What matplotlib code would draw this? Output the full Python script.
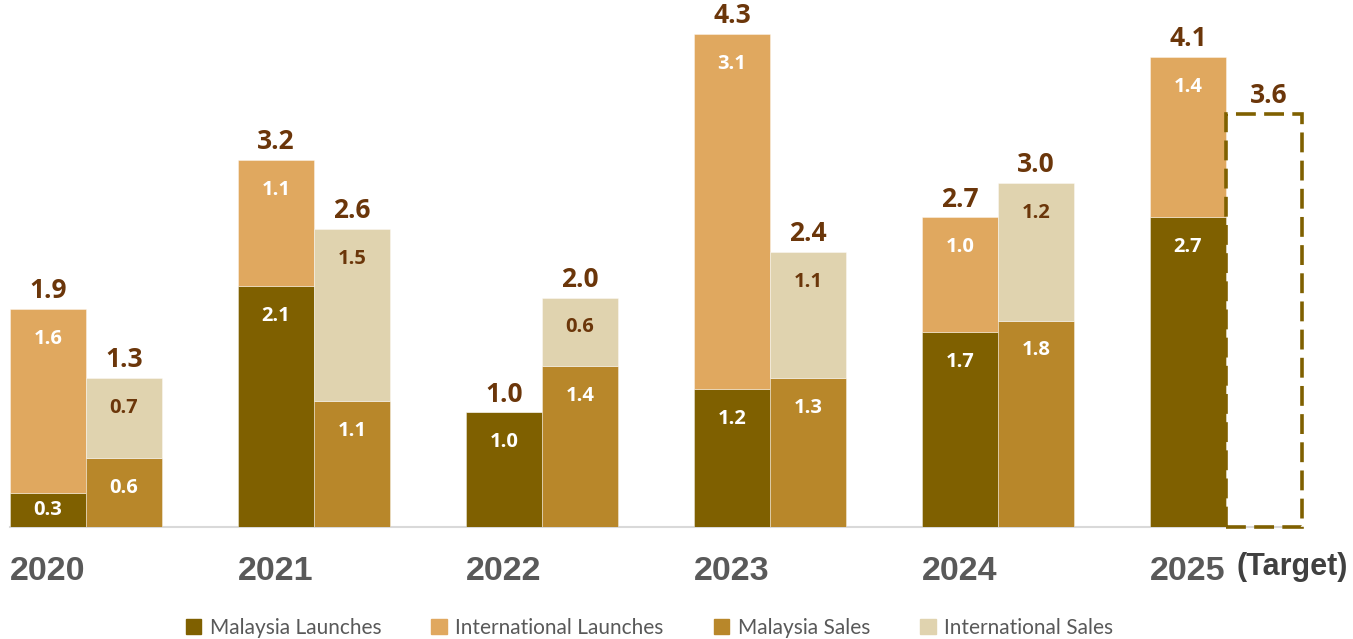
import matplotlib
matplotlib.use("Agg")
import matplotlib.pyplot as plt
from matplotlib.patches import Patch, Rectangle
import matplotlib.transforms as mtransforms

years = ["2020", "2021", "2022", "2023", "2024", "2025"]
my_launches = [0.3, 2.1, 1.0, 1.2, 1.7, 2.7]
intl_launches = [1.6, 1.1, 0.0, 3.1, 1.0, 1.4]
my_sales = [0.6, 1.1, 1.4, 1.3, 1.8]
intl_sales = [0.7, 1.5, 0.6, 1.1, 1.2]
target_2025 = 3.6

c_my_launch = "#7F6000"
c_intl_launch = "#E0A85F"
c_my_sales = "#B8872A"
c_intl_sales = "#E0D3AF"
c_top = "#6B360A"
c_year = "#595959"

num_font = ["Open Sans", "DejaVu Sans"]
year_font = ["Liberation Sans", "DejaVu Sans"]

fig = plt.figure(figsize=(13.53, 6.39), dpi=100)
ax = fig.add_axes([0, 112 / 639, 1, 527 / 639])
ax.set_xlim(-86 / 228, (1353 - 86) / 228)
ax.set_ylim(0, 527 / 114.7)
ax.axis("off")

w = 1 / 3
edge = dict(edgecolor=(1, 1, 1, 0.45), linewidth=0.6)


def inner_label(x, bottom, h, color):
    if h <= 0:
        return
    y = bottom + h - min(0.26, h / 2)
    ax.text(x, y, f"{h:.1f}", ha="center", va="center", color=color,
            fontsize=14.5, fontweight="bold", family=num_font)


def top_label(x, top):
    ax.text(x, top + 0.04, f"{top:.1f}", ha="center", va="bottom", color=c_top,
            fontsize=19, fontweight="bold", family=num_font)


# launches bars
for i in range(len(years)):
    x = i - w / 2
    ax.bar(x, my_launches[i], w, color=c_my_launch, **edge)
    ax.bar(x, intl_launches[i], w, bottom=my_launches[i], color=c_intl_launch, **edge)
    inner_label(x, 0, my_launches[i], "white")
    inner_label(x, my_launches[i], intl_launches[i], "white")
    top_label(x, round(my_launches[i] + intl_launches[i], 1))

# sales bars
for i in range(len(my_sales)):
    x = i + w / 2
    ax.bar(x, my_sales[i], w, color=c_my_sales, **edge)
    ax.bar(x, intl_sales[i], w, bottom=my_sales[i], color=c_intl_sales, **edge)
    inner_label(x, 0, my_sales[i], "white")
    inner_label(x, my_sales[i], intl_sales[i], c_top)
    top_label(x, round(my_sales[i] + intl_sales[i], 1))

# 2025 sales target, dashed outline
i = len(years) - 1
ax.add_patch(Rectangle((i, 0), w, target_2025, fill=False, edgecolor=c_my_launch,
                       linewidth=2.6, linestyle=(0, (5.5, 2.3)), clip_on=False, zorder=3))
ax.text(i + w / 2 + 0.02, target_2025 + 0.04, f"{target_2025:.1f}", ha="center", va="bottom",
        color=c_top, fontsize=19, fontweight="bold", family=num_font)

# baseline
ax.plot([-w, 5.325], [0, 0], color="#D9D9D9", linewidth=1.5, clip_on=False, zorder=0)

# year labels under the launches bars
trans = mtransforms.blended_transform_factory(ax.transData, ax.transAxes)
for i, yr in enumerate(years):
    ax.text(i - w / 2, -44 / 527, yr, transform=trans, ha="center", va="center",
            color=c_year, fontsize=24.5, fontweight="bold", family=year_font)
ax.text(5.29, -40 / 527, "(Target)", transform=trans, ha="center", va="center",
        color="#404040", fontsize=22, fontweight="bold", family=year_font)

handles = [Patch(color=c_my_launch), Patch(color=c_intl_launch),
           Patch(color=c_my_sales), Patch(color=c_intl_sales)]
labels = ["Malaysia Launches", "International Launches", "Malaysia Sales", "International Sales"]
fig.legend(handles, labels, loc="center", bbox_to_anchor=(0.48, 11 / 639), ncol=4,
           frameon=False, handlelength=0.75, handleheight=0.75, handletextpad=0.4,
           columnspacing=2.4, prop={"family": ["Lato", "DejaVu Sans"], "size": 15},
           labelcolor=c_year, borderaxespad=0, borderpad=0)

fig.savefig("out.png", dpi=100)
